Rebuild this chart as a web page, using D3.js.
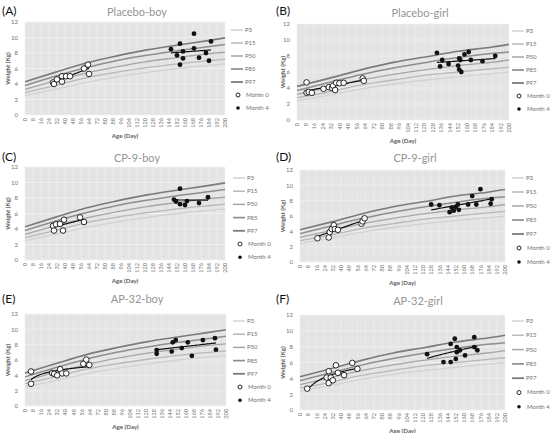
<!DOCTYPE html>
<html><head><meta charset="utf-8">
<script src="https://cdn.jsdelivr.net/npm/d3@7"></script>
<style>body{margin:0;background:#fff}svg{display:block}</style>
</head><body><svg id="c" width="550" height="433"></svg>
<script>
// ---------- data ----------
const ageTicks = d3.range(0, 201, 8);
const weightTicks = [0, 2, 4, 6, 8, 10, 12];
const percentileNames = ["P3", "P15", "P50", "P85", "P97"];
const refDays = [0, 30, 61, 91, 122, 152, 183, 200];
const boyP3  = [2.5, 3.3, 4.2, 4.9, 5.5, 6.0, 6.4, 6.6];
const boyP15 = [2.9, 3.8, 4.8, 5.5, 6.1, 6.6, 7.0, 7.2];
const boyP50 = [3.3, 4.4, 5.4, 6.2, 6.9, 7.4, 7.9, 8.1];
const boyP85 = [3.8, 5.0, 6.1, 7.0, 7.7, 8.3, 8.8, 9.1];
const boyP97 = [4.3, 5.5, 6.7, 7.6, 8.4, 9.0, 9.6, 9.95];
const girlP3  = [2.4, 3.1, 3.9, 4.5, 5.0, 5.4, 5.8, 6.0];
const girlP15 = [2.8, 3.5, 4.4, 5.0, 5.6, 6.0, 6.4, 6.6];
const girlP50 = [3.2, 4.1, 5.0, 5.7, 6.3, 6.8, 7.2, 7.5];
const girlP85 = [3.7, 4.7, 5.7, 6.5, 7.2, 7.8, 8.3, 8.5];
const girlP97 = [4.2, 5.2, 6.3, 7.2, 7.9, 8.6, 9.1, 9.45];

const panelLetters = ["(A)", "(B)", "(C)", "(D)", "(E)", "(F)"];
const panelTitles = ["Placebo-boy", "Placebo-girl", "CP-9-boy", "CP-9-girl", "AP-32-boy", "AP-32-girl"];
const panelSex = ["boy", "girl", "boy", "girl", "boy", "girl"];
const month0Labels = ["Mohtn 0", "Month 0", "Month 0", "Month 0", "Month 0", "Month 0"];
const month4Label = "Month 4";

// [age (day), weight (kg)]
const placeboBoyM0 = [[28,4.2],[29,4.0],[32,4.6],[37,5.0],[37,4.3],[41,5.0],[45,5.0],[59,6.0],[63,6.5],[64,5.3]];
const placeboBoyM4 = [[146,8.5],[155,9.2],[169,10.5],[186,9.5],[152,7.7],[158,8.2],[158,7.3],[155,6.5],[169,8.6],[174,7.4],[181,8.0],[184,7.0]];
const placeboGirlM0 = [[9,4.7],[9,3.4],[11,3.5],[14,3.4],[25,3.9],[30,4.1],[33,4.0],[34,4.3],[36,3.75],[37,4.65],[40,4.6],[44,4.65],[62,5.2],[63,4.9]];
const placeboGirlM4 = [[132,8.4],[135,6.7],[137,7.5],[143,7.0],[153,7.7],[154,7.5],[152,6.8],[153,6.3],[155,6.0],[158,8.2],[162,8.5],[164,7.5],[175,7.35],[187,8.0]];
const cp9BoyM0 = [[28,4.4],[29,3.8],[31,4.6],[35,4.65],[39,5.2],[38,3.8],[55,5.5],[59,4.9]];
const cp9BoyM4 = [[149,7.8],[151,7.55],[155,9.2],[155,7.2],[160,7.1],[162,7.6],[174,7.35],[183,8.1]];
const cp9GirlM0 = [[17,3.1],[28,3.2],[29,3.9],[31,4.3],[33,4.8],[34,4.3],[37,4.2],[60,5.0],[61,5.3],[63,5.7]];
const cp9GirlM4 = [[128,7.5],[136,7.4],[146,6.5],[148,7.1],[150,6.7],[152,7.2],[154,7.5],[155,6.8],[164,7.5],[168,8.6],[172,7.5],[176,9.5],[186,7.6],[187,8.2]];
const ap32BoyM0 = [[6,4.5],[6,2.9],[27,4.3],[29,4.2],[32,4.0],[35,4.8],[37,4.25],[41,4.25],[58,5.5],[61,6.05],[64,5.35]];
const ap32BoyM4 = [[131,7.3],[131,6.8],[146,7.1],[147,8.3],[150,8.6],[156,7.55],[162,8.3],[166,6.55],[177,8.6],[189,8.85],[190,7.35]];
const ap32GirlM0 = [[7,2.7],[26,4.1],[28,3.4],[28,4.9],[30,4.1],[32,3.75],[35,5.65],[37,4.7],[43,4.4],[51,5.95],[56,5.2]];
const ap32GirlM4 = [[124,7.05],[140,6.05],[147,6.05],[147,8.35],[151,9.0],[152,6.45],[153,7.3],[153,7.95],[156,7.55],[161,6.9],[170,9.2],[170,7.95],[173,7.55]];

const month0Sets = [placeboBoyM0, placeboGirlM0, cp9BoyM0, cp9GirlM0, ap32BoyM0, ap32GirlM0];
const month4Sets = [placeboBoyM4, placeboGirlM4, cp9BoyM4, cp9GirlM4, ap32BoyM4, ap32GirlM4];
const trend0Type = ["lin", "lin", "lin", "lin", "log", "log"];
const trend4Type = ["lin", "lin", "lin", "lin", "lin", "log"];

// ---------- layout ----------
const layout = [
  {x0:25, x1:225, y0:22, y1:115, tx:137, ty:12, lx:2, ly:15, legX:231, legY:30, legDy:13, yt:8},
  {x0:297, x1:509, y0:24, y1:120, tx:420, ty:13, lx:276, ly:15, legX:512, legY:31, legDy:13, yt:283},
  {x0:25, x1:225, y0:167, y1:260, tx:137, ty:158, lx:2, ly:161, legX:233, legY:178, legDy:13.2, yt:8},
  {x0:300, x1:505, y0:170, y1:262, tx:415, ty:158, lx:276, ly:161, legX:512, legY:178, legDy:14, yt:283},
  {x0:25, x1:226, y0:314, y1:406, tx:137, ty:299, lx:2, ly:303, legX:233, legY:321, legDy:13.2, yt:8},
  {x0:300, x1:505, y0:315, y1:410, tx:418, ty:301, lx:276, ly:303, legX:512, legY:321, legDy:14.3, yt:283}
];
const pctColors = ["#d2d2d2", "#b8b8b8", "#a6a6a6", "#8e8e8e", "#7b7b7b"];
const pctWidths = [1.3, 1.3, 1.3, 1.5, 1.6];
const FONT = "Lato, 'Open Sans', sans-serif";

const svg = d3.select("#c");

function fit(data, type) {
  const tx = type === "log" ? (x => Math.log(x)) : (x => x);
  const xs = data.map(d => tx(d[0])), ys = data.map(d => d[1]);
  const mx = d3.mean(xs), my = d3.mean(ys);
  const b = d3.sum(xs.map((x, i) => (x - mx) * (ys[i] - my))) / d3.sum(xs.map(x => (x - mx) ** 2));
  const a = my - b * mx;
  const [lo, hi] = d3.extent(data, d => d[0]);
  return d3.range(0, 41).map(i => { const x = lo + (hi - lo) * i / 40; return [x, a + b * tx(x)]; });
}

layout.forEach((L, p) => {
  const g = svg.append("g");
  const x = d3.scaleLinear().domain([0, 200]).range([L.x0, L.x1]);
  const y = d3.scaleLinear().domain([0, 12]).range([L.y1, L.y0]);

  // plot background
  g.append("rect").attr("x", L.x0).attr("y", L.y0).attr("width", L.x1 - L.x0).attr("height", L.y1 - L.y0).attr("fill", "#e4e4e4");
  g.append("g").selectAll("line").data(ageTicks).join("line")
    .attr("x1", d => x(d)).attr("x2", d => x(d)).attr("y1", L.y0).attr("y2", L.y1)
    .attr("stroke", "#f0f0f0").attr("stroke-width", 0.6);
  g.append("g").selectAll("line").data(weightTicks).join("line")
    .attr("x1", L.x0).attr("x2", L.x1).attr("y1", d => y(d)).attr("y2", d => y(d))
    .attr("stroke", "#f4f4f4").attr("stroke-width", 0.7);

  // axes
  const xa = g.append("g").attr("transform", `translate(0,${L.y1})`)
    .call(d3.axisBottom(x).tickValues(ageTicks).tickSize(0).tickPadding(0));
  xa.select(".domain").remove();
  xa.selectAll("text").attr("transform", "rotate(-90)").attr("text-anchor", "end")
    .attr("x", -3).attr("y", 0).attr("dy", "0.32em")
    .style("font-family", FONT).style("font-size", "5.6px").attr("fill", "#707070");
  const ya = g.append("g").attr("transform", `translate(${L.x0},0)`)
    .call(d3.axisLeft(y).tickValues(weightTicks).tickSize(0).tickPadding(7));
  ya.select(".domain").remove();
  ya.selectAll("text").style("font-family", FONT).style("font-size", "6px").attr("fill", "#707070");

  // percentile curves
  const sets = panelSex[p] === "boy" ? [boyP3, boyP15, boyP50, boyP85, boyP97] : [girlP3, girlP15, girlP50, girlP85, girlP97];
  const line = d3.line().x(d => x(d[0])).y(d => y(d[1])).curve(d3.curveMonotoneX);
  sets.forEach((vals, k) => {
    g.append("path").datum(refDays.map((d, i) => [d, vals[i]])).attr("d", line)
      .attr("fill", "none").attr("stroke", pctColors[k]).attr("stroke-width", pctWidths[k]);
  });

  // trend lines
  const tline = d3.line().x(d => x(d[0])).y(d => y(d[1]));
  [[month0Sets[p], trend0Type[p]], [month4Sets[p], trend4Type[p]]].forEach(([data, t]) => {
    g.append("path").datum(fit(data, t)).attr("d", tline).attr("fill", "none").attr("stroke", "#111").attr("stroke-width", 1.2);
  });

  // points
  g.append("g").selectAll("circle").data(month0Sets[p]).join("circle")
    .attr("cx", d => x(d[0])).attr("cy", d => y(d[1])).attr("r", 2.8)
    .attr("fill", "#fff").attr("stroke", "#111").attr("stroke-width", 0.9);
  g.append("g").selectAll("circle").data(month4Sets[p]).join("circle")
    .attr("cx", d => x(d[0])).attr("cy", d => y(d[1])).attr("r", 2.4)
    .attr("fill", "#111");

  // titles
  g.append("text").attr("x", L.tx).attr("y", L.ty + 4).attr("text-anchor", "middle")
    .style("font-family", FONT).style("font-size", "11px").attr("fill", "#959595").text(panelTitles[p]);
  g.append("text").attr("x", L.lx).attr("y", L.ly).style("font-family", FONT).style("font-size", "12px")
    .attr("fill", "#111").text(panelLetters[p]);
  g.append("text").attr("x", (L.x0 + L.x1) / 2).attr("y", L.y1 + 23).attr("text-anchor", "middle")
    .style("font-family", FONT).style("font-size", "6.2px").style("font-weight", "bold").attr("fill", "#606060").text("Age (Day)");
  g.append("text").attr("transform", `translate(${L.yt},${(L.y0 + L.y1) / 2}) rotate(-90)`).attr("text-anchor", "middle")
    .attr("dy", "0.32em").style("font-family", FONT).style("font-size", "6.2px").style("font-weight", "bold")
    .attr("fill", "#606060").text("Weight (Kg)");

  // legend
  const leg = g.append("g");
  percentileNames.forEach((nm, k) => {
    const yy = L.legY + k * L.legDy;
    leg.append("line").attr("x1", L.legX).attr("x2", L.legX + 12).attr("y1", yy).attr("y2", yy)
      .attr("stroke", pctColors[k]).attr("stroke-width", pctWidths[k] + 0.2);
    leg.append("text").attr("x", L.legX + 14).attr("y", yy).attr("dy", "0.32em")
      .style("font-family", FONT).style("font-size", "6px").attr("fill", "#707070").text(nm);
  });
  const y0l = L.legY + 5 * L.legDy, y4l = L.legY + 6 * L.legDy;
  leg.append("circle").attr("cx", L.legX + 7).attr("cy", y0l).attr("r", 2).attr("fill", "#fff").attr("stroke", "#111").attr("stroke-width", 0.9);
  leg.append("text").attr("x", L.legX + 15).attr("y", y0l).attr("dy", "0.32em")
    .style("font-family", FONT).style("font-size", "6px").attr("fill", "#707070").text(month0Labels[p]);
  leg.append("circle").attr("cx", L.legX + 7).attr("cy", y4l).attr("r", 1.8).attr("fill", "#111");
  leg.append("text").attr("x", L.legX + 15).attr("y", y4l).attr("dy", "0.32em")
    .style("font-family", FONT).style("font-size", "6px").attr("fill", "#707070").text(month4Label);
});
</script></body></html>
